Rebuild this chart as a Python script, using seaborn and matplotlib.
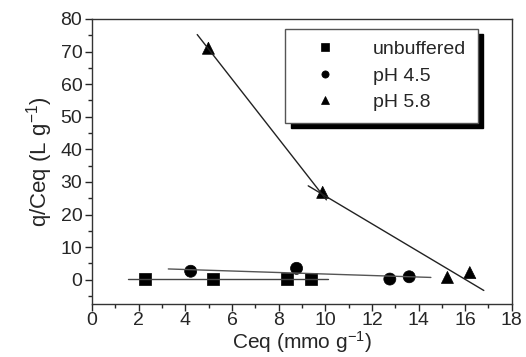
import matplotlib
matplotlib.use("Agg")
import matplotlib.pyplot as plt
import seaborn as sns
import pandas as pd
from matplotlib.ticker import MultipleLocator

# data
unbuf_x = [2.27, 5.17, 8.37, 9.41]
unbuf_y = [0.3, 0.3, 0.2, 0.1]
ph45_x = [4.23, 8.77, 12.77, 13.6]
ph45_y = [2.6, 3.5, 0.2, 0.9]
ph58_x = [4.99, 9.89, 15.24, 16.2]
ph58_y = [71.0, 26.8, 0.7, 2.2]

# fitted lines (endpoints)
fit_unbuf_x = [1.56, 10.1]
fit_unbuf_y = [0.3, 0.3]
fit_ph45_x = [3.27, 14.53]
fit_ph45_y = [3.3, 0.7]
fit_ph58a_x = [4.51, 10.05]
fit_ph58a_y = [75.2, 24.5]
fit_ph58b_x = [9.27, 16.8]
fit_ph58b_y = [28.8, -3.3]

sns.set_style("ticks")
plt.rcParams['font.family'] = ['Liberation Sans', 'DejaVu Sans']
plt.rcParams['mathtext.fontset'] = 'custom'
plt.rcParams['mathtext.rm'] = 'Liberation Sans'
plt.rcParams['mathtext.it'] = 'Liberation Sans'
plt.rcParams['mathtext.default'] = 'regular'

fig = plt.figure(figsize=(5.26, 3.57), dpi=100)
ax = fig.add_axes([0.175, 0.148, 0.798, 0.799])

for fx, fy, c in [(fit_unbuf_x, fit_unbuf_y, '#444444'),
                  (fit_ph45_x, fit_ph45_y, '#555555'),
                  (fit_ph58a_x, fit_ph58a_y, '#222222'),
                  (fit_ph58b_x, fit_ph58b_y, '#222222')]:
    sns.lineplot(x=fx, y=fy, ax=ax, color=c, linewidth=1.0, legend=False)

df = pd.DataFrame({
    'x': unbuf_x + ph45_x + ph58_x,
    'y': unbuf_y + ph45_y + ph58_y,
    'series': ['unbuffered'] * 4 + ['pH 4.5'] * 4 + ['pH 5.8'] * 4,
})
sns.scatterplot(data=df, x='x', y='y', style='series',
                markers={'unbuffered': 's', 'pH 4.5': 'o', 'pH 5.8': '^'},
                color='black', s=75, edgecolor='black', linewidth=0.5, ax=ax)

ax.set_xlim(0, 18)
ax.set_ylim(-7.5, 80)
ax.xaxis.set_major_locator(MultipleLocator(2))
ax.xaxis.set_minor_locator(MultipleLocator(1))
ax.yaxis.set_major_locator(MultipleLocator(10))
ax.yaxis.set_minor_locator(MultipleLocator(5))
ax.tick_params(which='major', direction='out', length=5, width=1, labelsize=14, pad=2)
ax.tick_params(axis='x', which='major', pad=1)
ax.tick_params(which='minor', direction='out', length=3, width=1)
for sp in ax.spines.values():
    sp.set_visible(True)
    sp.set_linewidth(1.0)
    sp.set_color('#333333')

ax.set_xlabel('Ceq (mmo g$^{-1}$)', fontsize=15, labelpad=0)
ax.set_ylabel('q/Ceq (L g$^{-1}$)', fontsize=16, labelpad=4)

handles, labels = ax.get_legend_handles_labels()
leg = ax.legend(handles, labels, loc='upper left', bbox_to_anchor=(0.46, 0.965),
                frameon=True, fancybox=False, fontsize=14,
                shadow={'color': 'black', 'alpha': 1.0, 'ox': 4, 'oy': -4},
                borderpad=0.6, handletextpad=1.0, labelspacing=0.45,
                markerscale=0.6, borderaxespad=0, handlelength=2.9)
leg.get_frame().set_edgecolor('#555555')
leg.get_frame().set_linewidth(1.0)

fig.savefig('out.png', dpi=100)
